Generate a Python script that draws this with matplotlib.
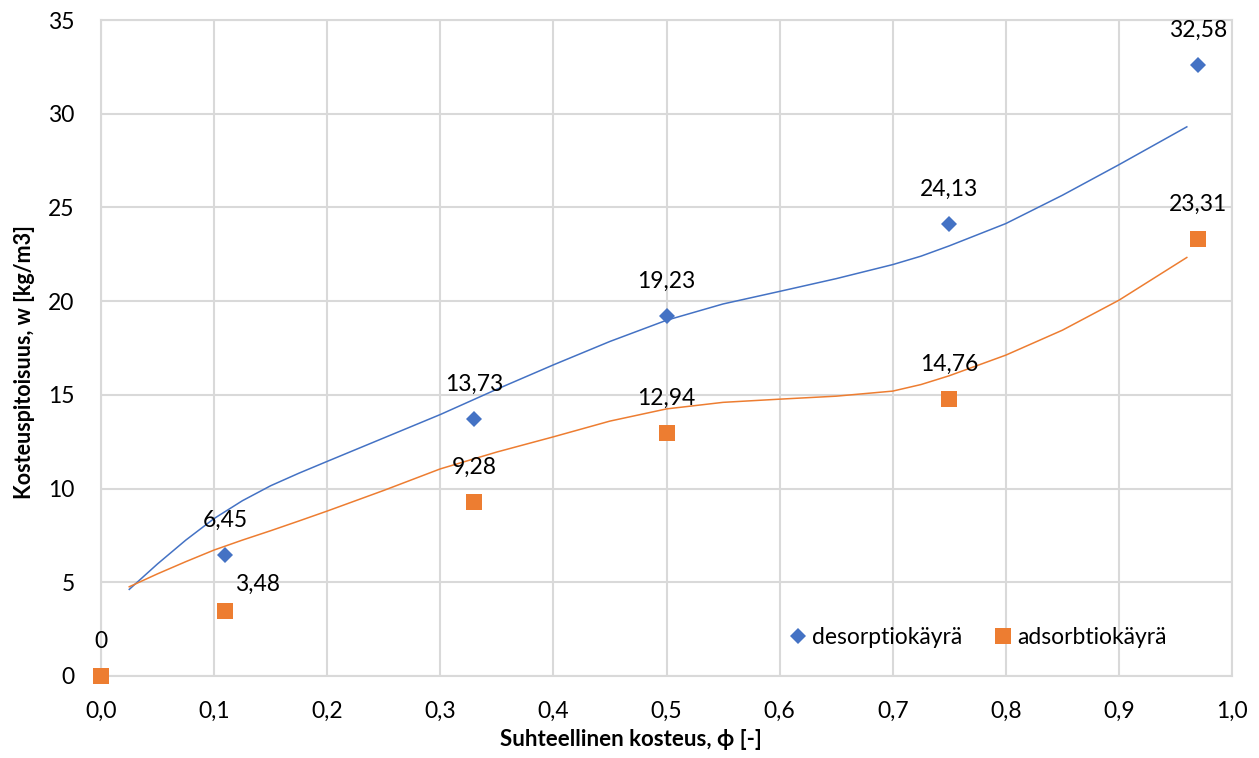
import matplotlib.pyplot as plt

plt.rcParams['font.family'] = ['Lato', 'DejaVu Sans']

# measured points
phi = [0.0, 0.11, 0.33, 0.50, 0.75, 0.97]
w_des = [0.0, 6.45, 13.73, 19.23, 24.13, 32.58]
w_ads = [0.0, 3.48, 9.28, 12.94, 14.76, 23.31]

# fitted curves
fit_phi = [0.025, 0.05, 0.075, 0.10, 0.125, 0.15, 0.175, 0.20, 0.25, 0.30,
           0.35, 0.40, 0.45, 0.50, 0.55, 0.60, 0.65, 0.70, 0.725, 0.75,
           0.80, 0.85, 0.90, 0.96]
fit_des = [4.62, 5.98, 7.25, 8.40, 9.35, 10.15, 10.82, 11.45, 12.70, 13.95,
           15.30, 16.60, 17.85, 18.98, 19.85, 20.52, 21.20, 21.95, 22.40,
           22.95, 24.14, 25.65, 27.28, 29.30]
fit_ads = [4.76, 5.45, 6.10, 6.72, 7.25, 7.75, 8.27, 8.80, 9.90, 11.05,
           11.95, 12.76, 13.60, 14.25, 14.60, 14.77, 14.93, 15.20, 15.55,
           16.02, 17.12, 18.45, 20.05, 22.33]

x_ticks = [0.0, 0.1, 0.2, 0.3, 0.4, 0.5, 0.6, 0.7, 0.8, 0.9, 1.0]
y_ticks = [0, 5, 10, 15, 20, 25, 30, 35]

blue = '#4472C4'
orange = '#ED7D31'
grid = '#D9D9D9'

fig = plt.figure(figsize=(12.59, 7.58), dpi=100)
ax = fig.add_axes([0.0802, 0.1082, 0.8984, 0.8654])

ax.plot(fit_phi, fit_des, color=blue, lw=1.1, zorder=3)
ax.plot(fit_phi, fit_ads, color=orange, lw=1.1, zorder=3)

ax.plot(phi, w_des, 'D', color=blue, ms=8.6, mew=0, zorder=4,
        clip_on=False, label='desorptiokäyrä')
ax.plot(phi, w_ads, 's', color=orange, ms=12, mew=0, zorder=5,
        clip_on=False, label='adsorbtiokäyrä')


def fmt(v):
    return f'{v:g}'.replace('.', ',')


for x, y in zip(phi[1:], w_des[1:]):
    ax.annotate(fmt(y), (x, y), xytext=(0, 25), textcoords='offset points',
                ha='center', va='center', fontsize=16.5)
for i, (x, y) in enumerate(zip(phi, w_ads)):
    dx, dy = (0, 25)
    if i == 1:
        dx, dy = (23, 19)
    ax.annotate(fmt(y), (x, y), xytext=(dx, dy), textcoords='offset points',
                ha='center', va='center', fontsize=16.5)

ax.set_xlim(0, 1.0)
ax.set_ylim(0, 35)
ax.set_xticks(x_ticks)
ax.set_yticks(y_ticks)
ax.set_xticklabels([f'{t:.1f}'.replace('.', ',') for t in x_ticks])
ax.set_yticklabels([str(t) for t in y_ticks])
ax.tick_params(length=0, labelsize=16.5, colors='#000000')
ax.tick_params(axis='x', pad=18)
ax.tick_params(axis='y', pad=19)

ax.grid(True, color=grid, lw=1.5)
ax.set_axisbelow(True)
for s in ax.spines.values():
    s.set_color(grid)
    s.set_linewidth(1.5)

ax.set_xlabel('Suhteellinen kosteus, ϕ [-]', fontsize=16, fontweight='bold')
ax.set_ylabel('Kosteuspitoisuus, w [kg/m3]', fontsize=15.5, fontweight='bold')
ax.xaxis.set_label_coords(0.4686, -0.081)
ax.yaxis.set_label_coords(-0.058, 0.479)

ax.legend(loc='center', bbox_to_anchor=(0.774, 0.059), ncol=2,
          frameon=False, fontsize=16.5, handletextpad=0.1,
          columnspacing=1.3, handlelength=1.0, borderpad=0)

fig.savefig('out.png', dpi=100)
